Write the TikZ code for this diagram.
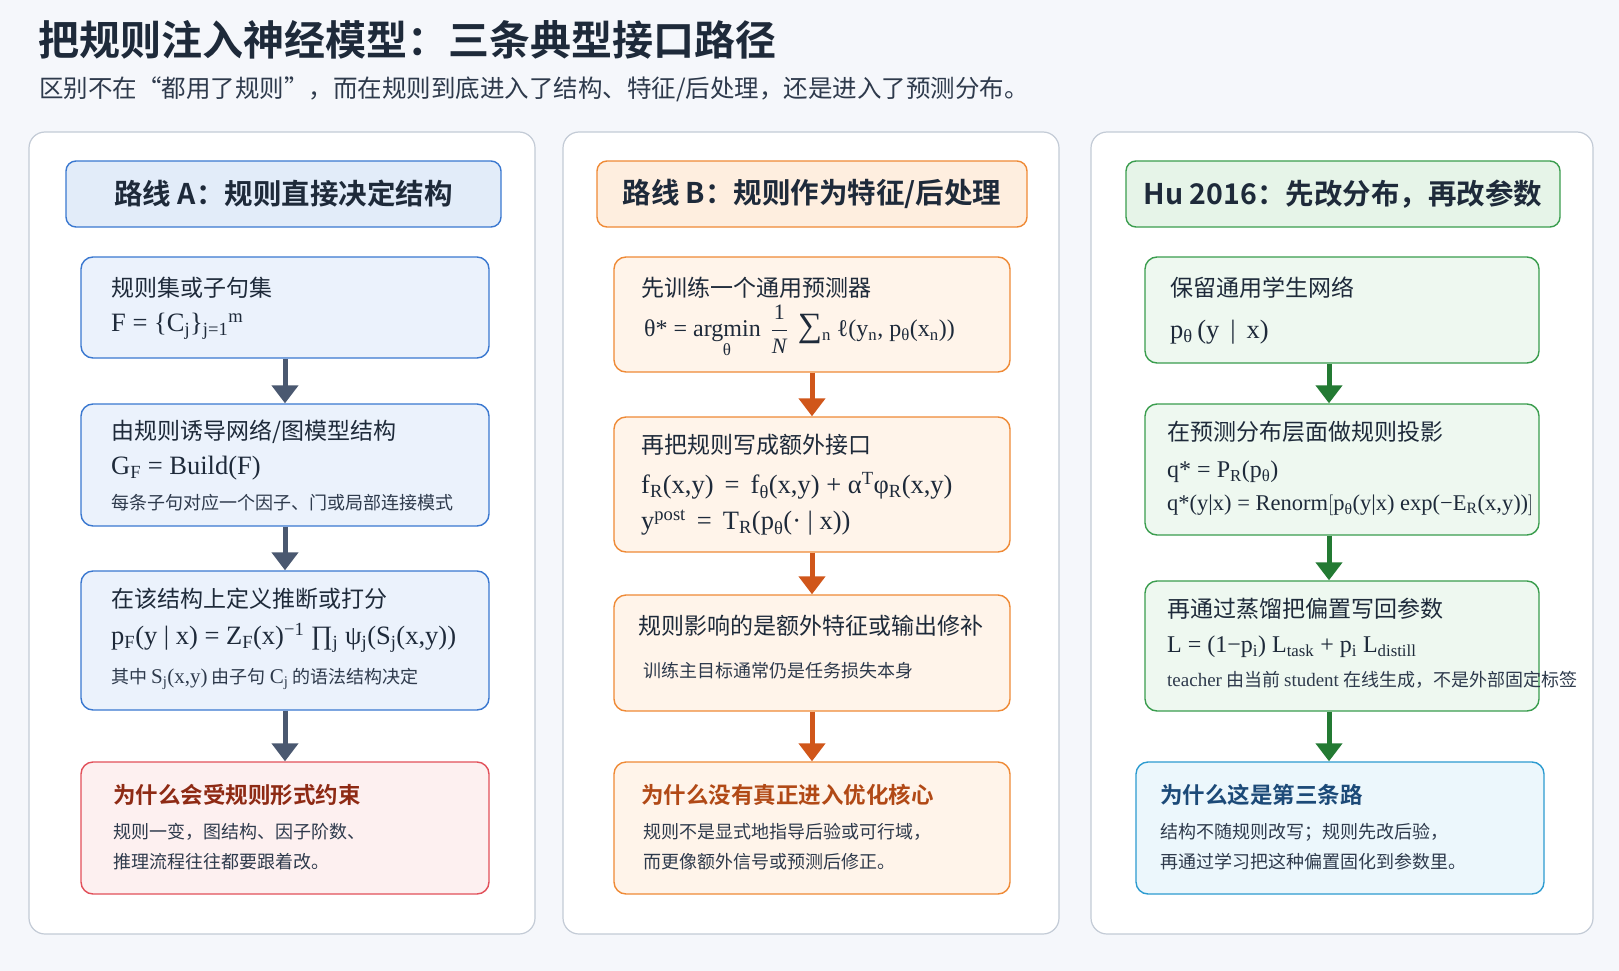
\documentclass[tikz,border=0pt]{standalone}
\usepackage{fontspec}
\setmainfont{Liberation Serif}
\newfontfamily\cjk{Noto Sans CJK SC}
\newfontfamily\cjkb{Noto Sans CJK SC}[BoldFont={Noto Sans CJK SC Bold}]
\newfontfamily\tm{Liberation Serif}
\usetikzlibrary{arrows.meta}
\definecolor{bgc}{HTML}{F5F7FB}
\definecolor{pan}{HTML}{C3CBD6}
\definecolor{ab}{HTML}{3A78D0}\definecolor{af}{HTML}{EBF2FC}\definecolor{ah}{HTML}{E2ECF9}
\definecolor{ob}{HTML}{EF8A36}\definecolor{of}{HTML}{FFF4EA}\definecolor{oh}{HTML}{FEEEDF}
\definecolor{gb}{HTML}{3A9D4E}\definecolor{gf}{HTML}{EEF8F0}\definecolor{gh}{HTML}{E6F4E8}
\definecolor{rb}{HTML}{E2505A}\definecolor{rf}{HTML}{FDF0F0}\definecolor{rt}{HTML}{8E2A14}
\definecolor{cb}{HTML}{2C9BD0}\definecolor{cf}{HTML}{ECF7FC}\definecolor{ct}{HTML}{1C4A78}
\definecolor{txt}{HTML}{1E2A3A}\definecolor{sub}{HTML}{2E3A4C}
\definecolor{aA}{HTML}{4A5870}\definecolor{aB}{HTML}{D0561A}\definecolor{aC}{HTML}{237A33}
\newcommand\sbs[1]{\textsubscript{#1}}
\newcommand\sps[1]{\textsuperscript{#1}}
\begin{document}
\begin{tikzpicture}[x=1pt,y=-1pt,
 panel/.style={draw=pan,line width=1.2pt,rounded corners=16pt,fill=white},
 hdr/.style={line width=1.4pt,rounded corners=10pt,font=\cjkb\bfseries\fontsize{28.5}{32}\selectfont,text=txt},
 bx/.style={line width=1.4pt,rounded corners=12pt},
 ttl/.style={anchor=west,font=\cjk\fontsize{23}{26}\selectfont,text=txt,inner sep=0},
 ttlb/.style={anchor=west,font=\cjkb\bfseries\fontsize{22.5}{26}\selectfont,inner sep=0},
 fm/.style={anchor=west,font=\tm\fontsize{26.5}{30}\selectfont,text=txt,inner sep=0},
 nt/.style={anchor=west,font=\cjk\fontsize{18}{21}\selectfont,text=sub,inner sep=0},
 arr/.style={line width=5pt,-{Triangle[length=18pt,width=26pt]}}]
\fill[bgc] (0,0) rectangle (1619,971);
\useasboundingbox (0,0) rectangle (1619,971);
\node[anchor=west,inner sep=0,font=\cjkb\bfseries\fontsize{41}{46}\selectfont,text=txt] (title) at (38,40) {把规则注入神经模型：三条典型接口路径};
\node[anchor=west,inner sep=0,font=\cjk\fontsize{24.5}{28}\selectfont,text=sub] (subt) at (39,89) {区别不在“都用了规则”，而在规则到底进入了结构、特征/后处理，还是进入了预测分布。};
% panels
\draw[panel] (29,132) rectangle (535,934);
\draw[panel] (563,132) rectangle (1059,934);
\draw[panel] (1091,132) rectangle (1593,934);
% headers
\node[hdr,draw=ab,fill=ah,minimum width=435pt,minimum height=66pt] (ha) at (283.5,194) {路线 A：规则直接决定结构};
\node[hdr,draw=ob,fill=oh,minimum width=430pt,minimum height=66pt] (hb) at (812,194) {路线 B：规则作为特征/后处理};
\node[hdr,draw=gb,fill=gh,minimum width=434pt,minimum height=66pt] (hc) at (1343,194) {Hu 2016：先改分布，再改参数};
% column A
\node[bx,draw=ab,fill=af,minimum width=408pt,minimum height=101pt] (a1) at (285,307.5) {};
\node[bx,draw=ab,fill=af,minimum width=408pt,minimum height=122pt] (a2) at (285,465) {};
\node[bx,draw=ab,fill=af,minimum width=408pt,minimum height=139pt] (a3) at (285,640.5) {};
\node[bx,draw=rb,fill=rf,minimum width=408pt,minimum height=132pt] (a4) at (285,828) {};
\draw[arr,aA] (a1.south) -- (a2.north);
\draw[arr,aA] (a2.south) -- (a3.north);
\draw[arr,aA] (a3.south) -- (a4.north);
\node[ttl] at (111,288) {规则集或子句集};
\node[fm] at (111,326) {F = \{C\sbs{j}\}\sbs{j=1}\sps{m}};
\node[ttl] at (111,432) {由规则诱导网络/图模型结构};
\node[fm] at (111,468) {G\sbs{F} = Build(F)};
\node[nt] at (111,503) {每条子句对应一个因子、门或局部连接模式};
\node[ttl] at (111,599) {在该结构上定义推断或打分};
\node[fm] at (111,638) {p\sbs{F}(y | x) = Z\sbs{F}(x)\sps{−1} ∏\sbs{j} ψ\sbs{j}(S\sbs{j}(x,y))};
\node[nt] at (111,679) {其中 {\tm\fontsize{21}{24}\selectfont S\sbs{j}(x,y)} 由子句 {\tm\fontsize{21}{24}\selectfont C\sbs{j}} 的语法结构决定};
\node[ttlb,text=rt] at (113,795) {为什么会受规则形式约束};
\node[nt] at (113,832) {规则一变，图结构、因子阶数、};
\node[nt] at (113,862) {推理流程往往都要跟着改。};
% column B
\node[bx,draw=ob,fill=of,minimum width=396pt,minimum height=115pt] (b1) at (812,314.5) {};
\node[bx,draw=ob,fill=of,minimum width=396pt,minimum height=135pt] (b2) at (812,484.5) {};
\node[bx,draw=ob,fill=of,minimum width=396pt,minimum height=116pt] (b3) at (812,653) {};
\node[bx,draw=ob,fill=of,minimum width=396pt,minimum height=132pt] (b4) at (812,828) {};
\draw[arr,aB] (b1.south) -- (b2.north);
\draw[arr,aB] (b2.south) -- (b3.north);
\draw[arr,aB] (b3.south) -- (b4.north);
\node[ttl] at (641,288) {先训练一个通用预测器};
\node[fm,font=\tm\fontsize{24}{28}\selectfont] at (644,331) {θ* = $\mathop{\mbox{\tm\fontsize{24}{28}\selectfont argmin}}\limits_{\mbox{\tm\fontsize{17}{20}\selectfont θ}}$ \,$\displaystyle\frac{\mbox{\tm\fontsize{22}{24}\selectfont 1}}{\mbox{\tm\itshape\fontsize{22}{24}\selectfont N}}$\, {\fontsize{34}{34}\selectfont ∑}\sbs{n} ℓ(y\sbs{n}, p\sbs{θ}(x\sbs{n}))};
\node[ttl] at (641,445) {再把规则写成额外接口};
\node[fm] at (641,486) {f\sbs{R}(x,y) \,=\, f\sbs{θ}(x,y) + α\sps{T}φ\sbs{R}(x,y)};
\node[fm] at (641,523) {y\sps{post} \,=\, T\sbs{R}(p\sbs{θ}(· | x))};
\node[ttl] at (638,626) {规则影响的是额外特征或输出修补};
\node[nt] at (643,671) {训练主目标通常仍是任务损失本身};
\node[ttlb,text=aB!85!black] at (641,795) {为什么没有真正进入优化核心};
\node[nt] at (643,832) {规则不是显式地指导后验或可行域，};
\node[nt] at (643,862) {而更像额外信号或预测后修正。};
% column C
\coordinate (ax) at (1329,0);
\node[bx,draw=gb,fill=gf,minimum width=394pt,minimum height=106pt] (c1) at (1342,310) {};
\node[bx,draw=gb,fill=gf,minimum width=394pt,minimum height=131pt] (c2) at (1342,469.5) {};
\node[bx,draw=gb,fill=gf,minimum width=394pt,minimum height=130pt] (c3) at (1342,646) {};
\node[bx,draw=cb,fill=cf,minimum width=408pt,minimum height=132pt] (c4) at (1340,828) {};
\draw[arr,aC] (c1.south -| ax) -- (c2.north -| ax);
\draw[arr,aC] (c2.south -| ax) -- (c3.north -| ax);
\draw[arr,aC] (c3.south -| ax) -- (c4.north -| ax);
\node[ttl] at (1170,288) {保留通用学生网络};
\node[fm] at (1170,332) {p\sbs{θ}\,(y \,|\, x)};
\node[ttl] at (1167,432) {在预测分布层面做规则投影};
\node[fm,font=\tm\fontsize{24}{28}\selectfont] at (1167,472) {q* = P\sbs{R}(p\sbs{θ})};
\node[fm,font=\tm\fontsize{22.5}{24}\selectfont] at (1167,505) {q*(y|x) = Renorm$\big[$p\sbs{θ}(y|x) exp(−E\sbs{R}(x,y))$\big]$};
\node[ttl] at (1167,609) {再通过蒸馏把偏置写回参数};
\node[fm,font=\tm\fontsize{24}{28}\selectfont] at (1167,647) {L = (1−p\sbs{i}) L\sbs{task} + p\sbs{i} L\sbs{distill}};
\node[nt] at (1167,680) {{\tm\fontsize{19}{22}\selectfont teacher} 由当前 {\tm\fontsize{19}{22}\selectfont student} 在线生成，不是外部固定标签};
\node[ttlb,text=ct] at (1160,795) {为什么这是第三条路};
\node[nt] at (1160,832) {结构不随规则改写；规则先改后验，};
\node[nt] at (1160,862) {再通过学习把这种偏置固化到参数里。};
\end{tikzpicture}
\end{document}
